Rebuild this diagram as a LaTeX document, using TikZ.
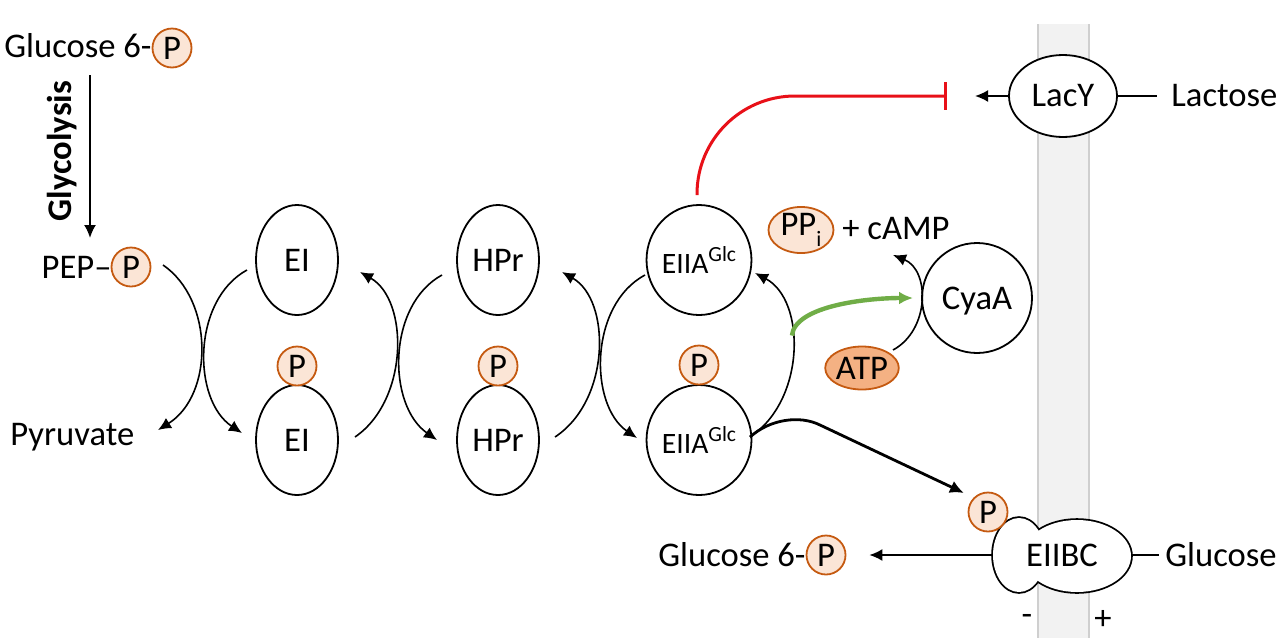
\documentclass[tikz,border=0pt]{standalone}
\usepackage{fontspec}
\setmainfont{Carlito}
\usetikzlibrary{shapes.geometric,arrows.meta,calc,positioning}

\definecolor{porange}{HTML}{C55A11}
\definecolor{ppeach}{HTML}{FBE5D6}
\definecolor{atpfill}{HTML}{F4B183}
\definecolor{memfill}{HTML}{F2F2F2}
\definecolor{memline}{HTML}{CFCFCF}
\definecolor{inhred}{RGB}{232,16,24}
\definecolor{actgreen}{HTML}{70AD47}

\tikzset{
  prot/.style={draw, ellipse, line width=0.9pt, fill=white, minimum width=41pt, minimum height=55pt, inner sep=0pt},
  phos/.style={circle, draw=porange, fill=ppeach, line width=0.9pt, minimum size=19.5pt, inner sep=0pt},
  txt/.style={inner sep=0pt, anchor=base west},
  rtxt/.style={inner sep=0pt, anchor=base east},
  rxn/.style={-{Latex[length=6.5pt,width=6pt]}, line width=0.8pt},
}
\newcommand{\eiia}{{\fontsize{14.8}{17}\selectfont EIIA\raisebox{0.38em}{\fontsize{10.8}{12}\selectfont Glc}}}

\begin{document}
\begin{tikzpicture}[x=0.5pt, y=-0.5pt, font=\fontsize{17.3}{20}\selectfont]
  \useasboundingbox (0,0) rectangle (1280,638);

  % Membrane
  \fill[memfill] (1038,24) rectangle (1089,638);
  \draw[memline, line width=0.8pt] (1038,24) -- (1038,638) (1089,24) -- (1089,638);
  \node (minus) at (1027,620) {-};
  \node (plus) at (1103,620) {+};

  % Glycolysis
  \node[rtxt] (G6Pa) at (152,57) {Glucose 6-};
  \node[phos] (Pg1) at (172,48) {P};
  \node[font=\fontsize{17.3}{20}\selectfont\bfseries, rotate=90] (Glyc) at (62,151) {Glycolysis};
  \node[rtxt] (PEPt) at (112,278) {PEP–};
  \node[phos] (Ppep) at (131,267) {P};
  \node[txt] (Pyr) at (10,445) {Pyruvate};
  \draw[rxn, line width=1pt] ($(G6Pa.base east)+(-62,18)$) -- ($(PEPt.base east)+(-22,-40)$);

  % PTS proteins
  \node[prot] (EIa) at (297,260) {EI};
  \node[prot] (EIb) at (297,440) {EI};
  \node[phos] (PEI) at (297,366) {P};
  \node[prot] (HPra) at (498,260) {HPr};
  \node[prot] (HPrb) at (498,440) {HPr};
  \node[phos] (PHPr) at (498,366) {P};
  \node[prot] (EIIAa) at (699,260) {\eiia};
  \node[prot] (EIIAb) at (699,440) {\eiia};
  \node[phos] (PEIIA) at (699,365) {P};

  % Phosphoryl transfer
  \draw[rxn] ($(Ppep)+(32,-2)$) .. controls +(51,35) and +(56,-35) .. ($(Pyr.base west)+(148,-15)$);
  \draw[rxn] ($(EIa)+(-50,10)$) .. controls +(-55,30) and +(-50,-33) .. ($(EIb)+(-55,-7)$);
  \draw[rxn] ($(EIb)+(58,-3)$) .. controls +(54,-37) and +(49,28) .. ($(EIa)+(63,12)$);
  \draw[rxn] ($(HPra)+(-56,15)$) .. controls +(-55,30) and +(-50,-35) .. ($(HPrb)+(-61,0)$);
  \draw[rxn] ($(HPrb)+(57,-3)$) .. controls +(56,-37) and +(49,28) .. ($(HPra)+(64,12)$);
  \draw[rxn] ($(EIIAa)+(-54,15)$) .. controls +(-56,30) and +(-48,-33) .. ($(EIIAb)+(-62,-2)$);
  \draw[rxn] ($(EIIAb)+(51,-3)$) .. controls +(56,-37) and +(51,27) .. ($(EIIAa)+(56,13)$) coordinate[pos=0.58] (br);

  % Adenylate cyclase
  \node[prot, circle, minimum size=55pt, text depth=0pt] (CyaA) at (977,298) {CyaA};
  \node[phos, ellipse, minimum width=32.5pt, minimum height=22pt] (PPi) at (801,230) {PP\raisebox{-0.3em}{\fontsize{11}{12}\selectfont i}};
  \node[txt] (cAMPt) at (842,239) {+ cAMP};
  \node[phos, ellipse, fill=atpfill, minimum width=34pt, minimum height=21.5pt] (ATP) at (862,368) {ATP};
  \draw[rxn] ($(ATP)+(31,-18)$) .. controls +(37,-20) and +(37,15) .. ($(cAMPt.base west)+(51,16)$);
  \draw[-{Latex[length=7pt,width=6.5pt]}, actgreen, line width=2.2pt] (br) .. controls +(3,-30) and +(-45,0) .. ($(CyaA)+(-64,0)$);

  % Lactose permease
  \node[prot, minimum width=54pt, minimum height=41pt] (LacY) at (1063,96) {LacY};
  \node[txt] (Lac) at (1171,106) {Lactose};
  \draw[line width=0.8pt] (LacY.east) -- ($(Lac.base west)+(-14,-10)$);
  \draw[rxn] (LacY.west) -- ($(LacY.west)+(-33,0)$);
  \draw[inhred, line width=1.5pt, -{Bar[width=14pt]}, rounded corners=49pt] ($(EIIAa)+(-2,-65)$) |- ($(LacY.west)+(-61,0)$);

  % EIIBC
  \draw[line width=1.8pt] (1019,555) ellipse [x radius=13pt, y radius=18.5pt];
  \draw[line width=1.8pt] (1077,556) ellipse [x radius=27pt, y radius=18pt];
  \fill[white] (1019,555) ellipse [x radius=13pt, y radius=18.5pt];
  \fill[white] (1077,556) ellipse [x radius=27pt, y radius=18pt];
  \node[minimum width=69pt, minimum height=37pt, inner sep=0pt] (EIIBC) at (1062,555) {EIIBC};
  \node[phos] (Pg3) at (988,512) {P};
  \node[txt] (Glc) at (1165,566) {Glucose};
  \draw[line width=0.8pt] (EIIBC.east) -- ($(Glc.base west)+(-6,-11)$);
  \node[rtxt] (G6Pb) at (806,566) {Glucose 6-};
  \node[phos] (Pg2) at (826,555) {P};
  \draw[rxn] (EIIBC.west) -- ($(Pg2.east)+(23,0)$);
  \draw[-{Latex[length=7pt,width=6.5pt]}, line width=1.4pt] ($(EIIAb)+(51,-3)$) .. controls +(20,-18) and +(-20,-10) .. ($(EIIAb)+(121,-15)$) -- ($(Pg3)+(-24,-19)$);
\end{tikzpicture}
\end{document}
